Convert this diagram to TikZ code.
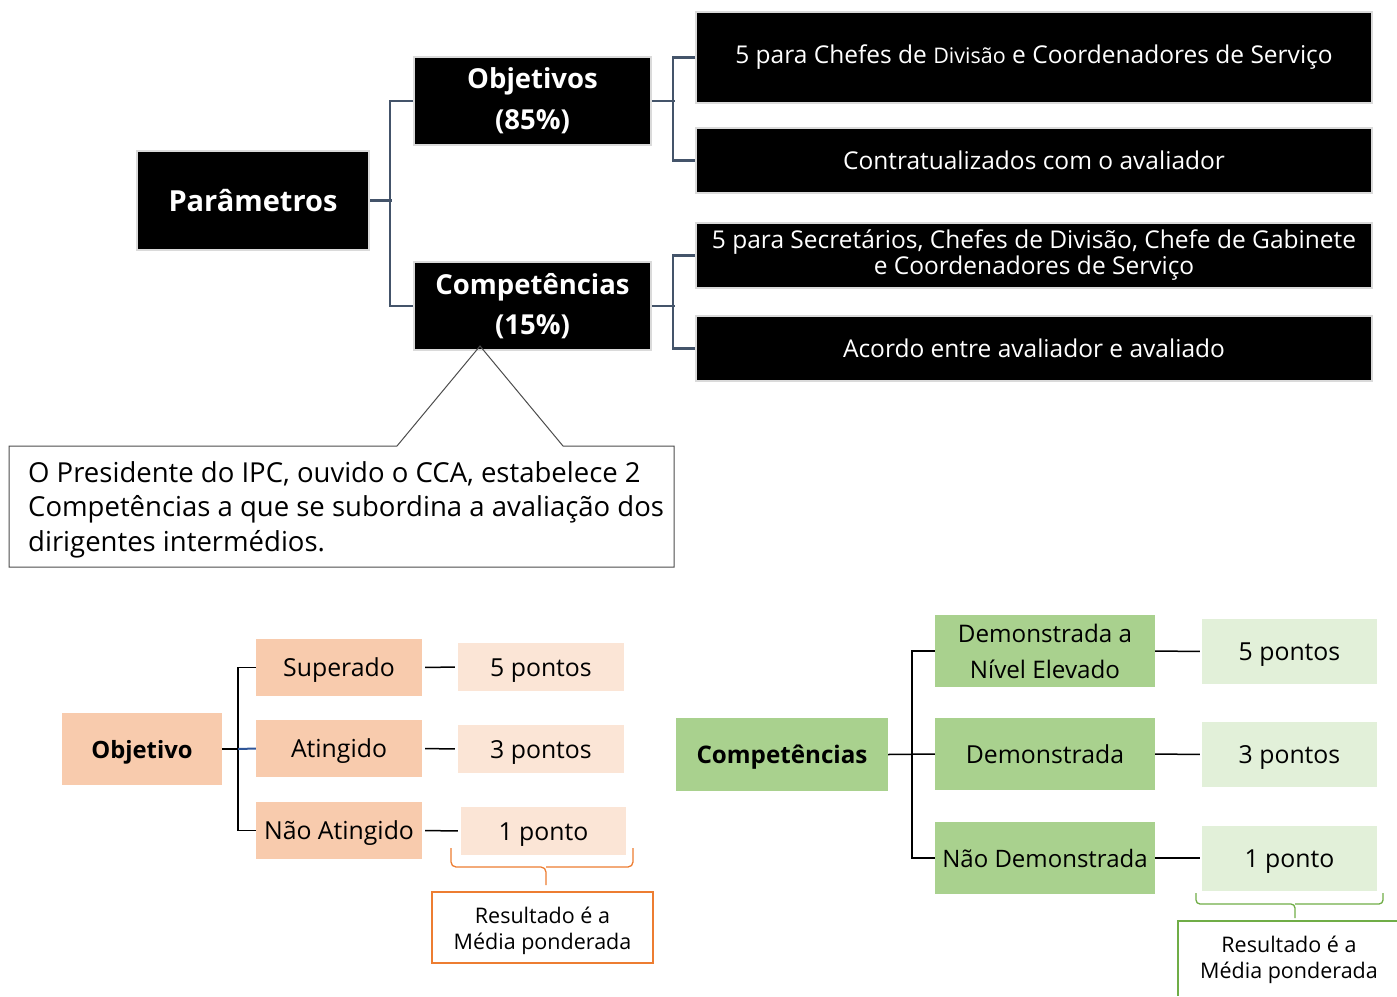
\documentclass[tikz,border=0pt]{standalone}
\usepackage{fontspec}
\setmainfont{Open Sans}
\definecolor{conn}{HTML}{44546A}
\definecolor{edgegray}{HTML}{DADADA}
\definecolor{orA}{HTML}{F8CBAD}
\definecolor{orB}{HTML}{FBE5D6}
\definecolor{orL}{HTML}{ED7D31}
\definecolor{grA}{HTML}{A9D18E}
\definecolor{grB}{HTML}{E2F0D9}
\definecolor{grL}{HTML}{70AD47}
\definecolor{bluel}{HTML}{2F5597}
\tikzset{
  blk/.style={fill=black, draw=edgegray, line width=2pt, text=white, align=center, inner sep=0pt},
  cn/.style={draw=conn, line width=2.5pt},
  bl/.style={draw=black, line width=1.5pt},
  sl/.style={text height=18pt, text depth=0pt},
  orbox/.style={fill=orA, align=center, inner sep=0pt, sl},
  orlt/.style={fill=orB, align=center, inner sep=0pt, sl},
  grbox/.style={fill=grA, align=center, inner sep=0pt},
  grlt/.style={fill=grB, align=center, inner sep=0pt, sl},
}
\begin{document}
\begin{tikzpicture}[x=1pt,y=-1pt]
\useasboundingbox (0,0) rectangle (1397,996);
% top part
\node[blk, minimum width=232, minimum height=99, font=\fontsize{29}{32}\selectfont\bfseries] (par) at (253,200.5) {Parâmetros};
\node[blk, minimum width=237, minimum height=88, font=\fontsize{27.5}{41}\selectfont\bfseries] (obj) at (532.5,101) {Objetivos\\(85\%)};
\node[blk, minimum width=237, minimum height=88, font=\fontsize{27.5}{40}\selectfont\bfseries] (comp) at (532.5,306) {Competências\\(15\%)};
\node[blk, minimum width=676, minimum height=91, font=\fontsize{24.5}{26}\selectfont] (r1) at (1034,57.5) {\raisebox{-5.5pt}{5 para Chefes de {\fontsize{21.5}{26}\selectfont Divisão} e Coordenadores de Serviço}};
\node[blk, minimum width=676, minimum height=65, font=\fontsize{24.5}{26}\selectfont] (r2) at (1034,160.5) {Contratualizados com o avaliador};
\node[blk, minimum width=676, minimum height=65, font=\fontsize{24.5}{26}\selectfont] (r3) at (1034,255.5) {5 para Secretários, Chefes de Divisão, Chefe de Gabinete\\e Coordenadores de Serviço};
\node[blk, minimum width=676, minimum height=65, font=\fontsize{24.5}{26}\selectfont] (r4) at (1034,348.5) {Acordo entre avaliador e avaliado};
\draw[cn] (par.east) -- ++(22,0) coordinate (pj);
\draw[cn] (obj.west) -- ++(-23,0) |- (comp.west);
\draw[cn] (obj.east) -- ++(23,0) coordinate (oj);
\draw[cn] (r1.west) -- ++(-22,0) |- (r2.west);
\draw[cn] (comp.east) -- ++(23,0) coordinate (cj);
\draw[cn] (r3.west) -- ++(-22,0) |- (r4.west);
% callout
\node[anchor=north west, align=left, inner sep=0pt, font=\fontsize{27.5}{34.5}\selectfont] (callt) at (28,461) {O Presidente do IPC, ouvido o CCA, estabelece 2\\Competências a que se subordina a avaliação dos\\dirigentes intermédios.};
\coordinate (tip) at (480,346);
\draw[draw=black!70, line width=1pt] (9,446) -- (397,446) -- (tip) -- (563,446) -- (674,446) -- (674,567) -- (9,567) -- cycle;
% bottom left
\node[orbox, minimum width=160, minimum height=72, font=\fontsize{23.8}{26}\selectfont\bfseries] (ob) at (142,749) {Objetivo};
\node[orbox, minimum width=166, minimum height=57, font=\fontsize{24.8}{27}\selectfont] (sup) at (339,667.5) {Superado};
\node[orbox, minimum width=166, minimum height=57, font=\fontsize{24.8}{27}\selectfont] (atg) at (339,748.5) {Atingido};
\node[orbox, minimum width=166, minimum height=57, font=\fontsize{24.8}{27}\selectfont] (nat) at (339,830.5) {Não Atingido};
\node[orlt, minimum width=166, minimum height=48, font=\fontsize{24.8}{27}\selectfont] (p5a) at (541,667) {5 pontos};
\node[orlt, minimum width=166, minimum height=48, font=\fontsize{24.8}{27}\selectfont] (p3a) at (541,749) {3 pontos};
\node[orlt, minimum width=165, minimum height=48, font=\fontsize{24.8}{27}\selectfont] (p1a) at (543.5,831) {1 ponto};
\draw[bl] (sup.west) -- ++(-18,0) |- (nat.west);
\draw[bl] (ob.east) -- ++(16,0) coordinate (oj2);
\draw[draw=bluel, line width=2pt] (oj2) -- (atg.west);
\draw[bl, shorten <=3pt, shorten >=3pt] (sup.east) -- (p5a.west);
\draw[bl, shorten <=3pt, shorten >=3pt] (atg.east) -- (p3a.west);
\draw[bl, shorten <=3pt, shorten >=3pt] (nat.east) -- (p1a.west);
\draw[draw=orL, line width=1.3pt, rounded corners=5pt] (451,848) |- (546,867) -- (546,885);
\draw[draw=orL, line width=1.3pt, rounded corners=5pt] (633,848) |- (546,867);
\draw[draw=orL, line width=1.2pt] (432,892) rectangle (653,963);
\node[align=center, inner sep=0pt, font=\fontsize{21.5}{26}\selectfont] (resa) at (542.5,930.5) {Resultado é a\\Média ponderada};
% bottom right
\node[grbox, sl, minimum width=212, minimum height=73, font=\fontsize{24.2}{26}\selectfont\bfseries] (cg) at (782,754.5) {Competências};
\node[grbox, minimum width=220, minimum height=72, font=\fontsize{24.2}{36}\selectfont] (dne) at (1045,651) {Demonstrada a\\Nível Elevado};
\node[grbox, sl, minimum width=220, minimum height=72, font=\fontsize{24.8}{27}\selectfont] (dem) at (1045,754) {Demonstrada};
\node[grbox, sl, minimum width=220, minimum height=72, font=\fontsize{24}{27}\selectfont] (ndem) at (1045,858) {Não Demonstrada};
\node[grlt, minimum width=175, minimum height=65, font=\fontsize{24.8}{27}\selectfont] (p5b) at (1289.5,651.5) {5 pontos};
\node[grlt, minimum width=175, minimum height=65, font=\fontsize{24.8}{27}\selectfont] (p3b) at (1289.5,754.5) {3 pontos};
\node[grlt, minimum width=175, minimum height=65, font=\fontsize{24.8}{27}\selectfont] (p1b) at (1289.5,858) {1 ponto};
\draw[bl] (dne.west) -- ++(-23,0) |- (ndem.west);
\draw[bl] (cg.east) -- (dem.west);
\draw[bl, shorten >=2pt] (dne.east) -- (p5b.west);
\draw[bl, shorten >=2pt] (dem.east) -- (p3b.west);
\draw[bl, shorten >=2pt] (ndem.east) -- (p1b.west);
\draw[draw=grL, line width=1.3pt, rounded corners=4pt] (1196,893) |- (1295,904) -- (1295,918);
\draw[draw=grL, line width=1.3pt, rounded corners=4pt] (1383,893) |- (1295,904);
\node[align=center, inner sep=0pt, font=\fontsize{21.5}{26}\selectfont] (resb) at (1289,960) {Resultado é a\\Média ponderada};
\draw[draw=grL, line width=1.2pt] (1397,921) -- (1178,921) -- (1178,996);
\end{tikzpicture}
\end{document}
